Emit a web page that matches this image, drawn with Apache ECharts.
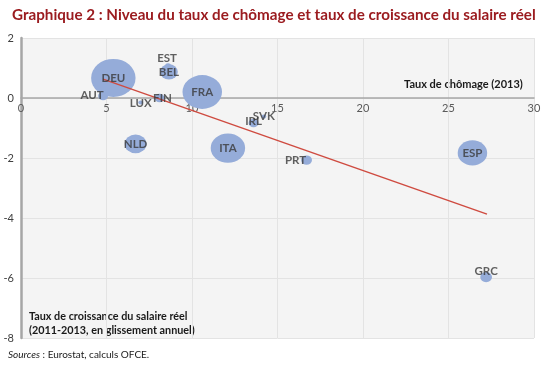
<!DOCTYPE html>
<html>
<head>
<meta charset="utf-8">
<script src="https://cdn.jsdelivr.net/npm/echarts@6/dist/echarts.min.js"></script>
<style>
html,body{margin:0;padding:0;background:#fff;}
#chart{width:550px;height:366px;}
</style>
</head>
<body>
<div id="chart"></div>
<script>
// Data
const pays = ['AUT','DEU','EST','BEL','FIN','LUX','FRA','NLD','ITA','IRL','SVK','PRT','ESP','GRC'];
const chomage = [4.8, 5.4, 8.6, 8.65, 8.1, 7.0, 10.6, 6.7, 12.1, 13.6, 14.2, 16.7, 26.4, 27.2];
const salaire = [0.07, 0.67, 1.08, 0.87, 0.0, -0.15, 0.2, -1.53, -1.67, -0.83, -0.62, -2.07, -1.83, -5.97];
const poids = [5, 100, 1.5, 16, 5, 1.2, 79, 24, 60, 5, 1.2, 6, 44, 7];
const tendanceX = [4.8, 27.25];
const tendanceY = [0.63, -3.87];
const xTicks = [0, 5, 10, 15, 20, 25, 30];
const yTicks = [-8, -6, -4, -2, 0, 2];

const FONT = 'Lato';
const labelOffsets = {
  AUT: [-11, -1], DEU: [0, 0], EST: [-1, -7], BEL: [0, 0], FIN: [3, 0], LUX: [0, 1],
  FRA: [0, 0], NLD: [0, 0], ITA: [0, 0], IRL: [0, -2], SVK: [0, 0], PRT: [-11, 0],
  ESP: [0, 0], GRC: [0, -6]
};

const pts = pays.map((p, i) => [chomage[i], salaire[i], poids[i], p]);
const sizeFn = v => { const h = Math.sqrt(v[2]) * 3.8; return [h * 1.17, h]; };

const GRID_H = 300;
const yMin = yTicks[0], yMax = yTicks[yTicks.length - 1];
// move the x axis (line + labels) up to the y = 0 level
const xAxisOffset = -GRID_H * (0 - yMin) / (yMax - yMin);

const chart = echarts.init(document.getElementById('chart'), null, {renderer: 'canvas'});
chart.setOption({
  animation: false,
  backgroundColor: '#ffffff',
  title: {
    text: 'Graphique 2 : Niveau du taux de chômage et taux de croissance du salaire réel',
    left: 7, top: 3,
    textStyle: {fontFamily: FONT, fontWeight: 'bold', fontSize: 15.2, color: '#9b1c20'}
  },
  grid: {
    left: 21, top: 38, width: 513, height: GRID_H,
    show: true, backgroundColor: '#f4f4f4', borderWidth: 0
  },
  xAxis: {
    type: 'value', min: xTicks[0], max: xTicks[xTicks.length - 1], interval: 5,
    position: 'bottom', offset: xAxisOffset,
    axisLine: {onZero: false, lineStyle: {color: '#a6a6a6', width: 1.5}},
    axisTick: {show: false},
    axisLabel: {fontFamily: FONT, fontSize: 11, color: '#595959', margin: 5},
    splitLine: {lineStyle: {color: '#e3e3e3', width: 1}}
  },
  yAxis: {
    type: 'value', min: yMin, max: yMax, interval: 2,
    axisLine: {show: true, onZero: false, lineStyle: {color: '#a6a6a6', width: 2.5}},
    axisTick: {show: false},
    axisLabel: {fontFamily: FONT, fontSize: 11, color: '#404040', margin: 7},
    splitLine: {lineStyle: {color: '#e3e3e3', width: 1}}
  },
  series: [
    {
      type: 'scatter', z: 1,
      data: pts,
      symbolSize: sizeFn,
      itemStyle: {color: '#95acd9', opacity: 1},
      label: {show: false}
    },
    {
      type: 'line', z: 2,
      data: tendanceX.map((x, i) => [x, tendanceY[i]]),
      symbol: 'none',
      lineStyle: {color: '#cf4b40', width: 1.5}
    },
    {
      type: 'scatter', z: 3,
      data: pts,
      symbolSize: 1,
      itemStyle: {color: 'rgba(0,0,0,0)'},
      label: {
        show: true, position: 'inside',
        formatter: p => p.value[3],
        fontFamily: FONT, fontWeight: 'bold', fontSize: 11.5, color: '#3a3a3a'
      },
      labelLayout: p => ({dx: labelOffsets[pts[p.dataIndex][3]][0], dy: labelOffsets[pts[p.dataIndex][3]][1]})
    }
  ],
  graphic: [
    {type: 'text', left: 404, top: 79, style: {text: 'Taux de chômage (2013)', font: 'bold 11px ' + FONT, fill: '#1a1a1a'}},
    {type: 'text', left: 29, top: 310, style: {text: 'Taux de croissance du salaire réel\n(2011-2013, en glissement annuel)', font: 'bold 10.8px ' + FONT, fill: '#1a1a1a', lineHeight: 13.5}},
    {type: 'text', left: 8, top: 350, style: {
      text: '{i|Sources} : Eurostat, calculs OFCE.',
      font: '10px ' + FONT, fill: '#1a1a1a',
      rich: {i: {fontStyle: 'italic', fontFamily: FONT, fontSize: 10, fill: '#1a1a1a'}}
    }}
  ]
});
</script>
</body>
</html>
